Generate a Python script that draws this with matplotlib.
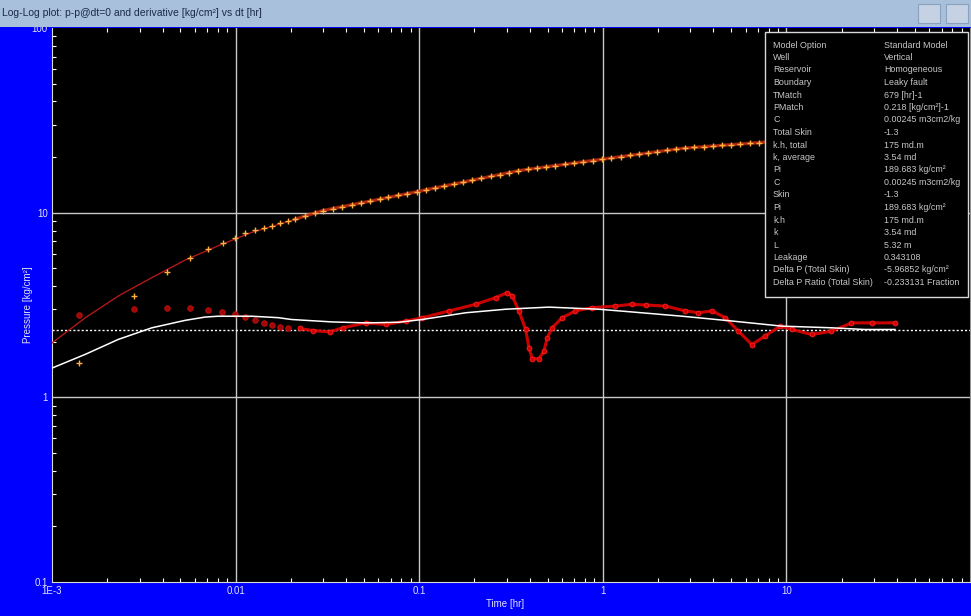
import matplotlib
matplotlib.use('Agg')
import matplotlib.pyplot as plt
from matplotlib.patches import Rectangle
import numpy as np

# measured pressure change p - p@dt=0 [kg/cm2] vs elapsed time [hr]
press_t = [0.0014, 0.00281, 0.00422, 0.00562, 0.00704, 0.00857, 0.00992, 0.01123, 0.01273,
           0.01432, 0.01583, 0.01741, 0.01932,
           0.021, 0.024, 0.027, 0.030, 0.034, 0.038, 0.043, 0.048, 0.054, 0.061, 0.068,
           0.077, 0.086, 0.097, 0.109, 0.122, 0.137, 0.154, 0.173, 0.194, 0.218, 0.245,
           0.275, 0.309, 0.347, 0.39, 0.44, 0.49, 0.55, 0.62, 0.70, 0.78, 0.88, 0.99,
           1.11, 1.25, 1.40, 1.57, 1.77, 1.98, 2.23, 2.50, 2.81, 3.15, 3.54, 3.97, 4.46,
           5.0, 5.6, 6.3, 7.1, 8.0, 9.0, 10.1, 11.3, 12.7, 14.3, 16.0, 18.0, 20.2, 22.7,
           25.5, 28.6, 32.1, 36.0]
press_p = [1.54, 3.54, 4.80, 5.67, 6.37, 6.81, 7.29, 7.72, 8.05,
           8.25, 8.52, 8.74, 8.97,
           9.21, 9.60, 9.96, 10.27, 10.53, 10.77, 11.04, 11.28, 11.55, 11.83, 12.09,
           12.39, 12.67, 12.98, 13.30, 13.61, 13.94, 14.28, 14.62, 14.98, 15.34, 15.71,
           16.08, 16.47, 16.86, 17.16, 17.44, 17.69, 17.97, 18.26, 18.57, 18.84, 19.15, 19.46,
           19.77, 20.09, 20.40, 20.72, 21.06, 21.38, 21.73, 22.07, 22.37, 22.56, 22.76, 22.95,
           23.15, 23.34, 23.54, 23.74, 23.95, 24.16, 24.33, 24.50, 24.67, 24.84, 25.01,
           25.18, 25.35, 25.53, 25.71, 25.89, 26.07, 26.25, 26.43]

# pressure derivative [kg/cm2]
deriv_t = [0.0014, 0.00281, 0.00422, 0.00562, 0.00704, 0.00846, 0.0099, 0.01123, 0.0127,
           0.0143, 0.0158, 0.0174, 0.0193,
           0.0223, 0.0263, 0.0325, 0.0383, 0.0513, 0.0659, 0.0847, 0.104, 0.146, 0.203,
           0.261, 0.302, 0.321, 0.349, 0.380, 0.396, 0.413, 0.449, 0.478, 0.498, 0.530,
           0.601, 0.710, 0.875, 1.17, 1.44, 1.71, 2.19, 2.81, 3.32, 3.93, 4.64, 5.48,
           6.48, 7.66, 9.24, 10.7, 13.7, 17.6, 22.6, 29.1, 39.0]
deriv_p = [2.79, 3.00, 3.06, 3.04, 2.97, 2.90, 2.82, 2.72, 2.61,
           2.52, 2.46, 2.40, 2.36,
           2.36, 2.30, 2.26, 2.38, 2.53, 2.48, 2.59, 2.70, 2.94, 3.19,
           3.47, 3.69, 3.54, 2.94, 2.33, 1.85, 1.62, 1.62, 1.78, 2.10, 2.38,
           2.70, 2.94, 3.06, 3.12, 3.19, 3.16, 3.12, 2.94, 2.87, 2.94, 2.70, 2.28,
           1.93, 2.15, 2.43, 2.33, 2.19, 2.28, 2.53, 2.53, 2.53]

# leaky fault model: pressure and derivative
model_t = [0.001, 0.00152, 0.0023, 0.0035, 0.0053, 0.00805, 0.0122, 0.0201, 0.0297,
           0.104, 0.349, 1.08, 2.69, 7.69, 36.0]
model_p = [1.97, 2.70, 3.54, 4.45, 5.53, 6.62, 7.81, 9.05, 10.25,
           13.17, 16.9, 19.7, 22.3, 24.1, 26.4]
model_dt = [0.001, 0.00152, 0.0023, 0.0035, 0.0053, 0.00681, 0.00805, 0.0122, 0.0171,
            0.0201, 0.0337, 0.0513, 0.0775, 0.104, 0.179, 0.296, 0.508, 0.95, 1.44,
            2.70, 5.05, 9.44, 17.6, 26.7, 39.0]
model_dp = [1.44, 1.71, 2.06, 2.38, 2.61, 2.72, 2.75, 2.75, 2.70,
            2.64, 2.56, 2.53, 2.55, 2.64, 2.87, 3.00, 3.08, 3.00, 2.90,
            2.75, 2.59, 2.43, 2.38, 2.33, 2.33]

stab_level = 2.31

x_ticks = [0.001, 0.01, 0.1, 1, 10]
x_labels = ['1E-3', '0.01', '0.1', '1', '10']
y_ticks = [0.1, 1, 10, 100]
y_labels = ['0.1', '1', '10', '100']

info_labels = ['Model Option', 'Well', 'Reservoir', 'Boundary', 'TMatch', 'PMatch', 'C',
               'Total Skin', 'k.h, total', 'k, average', 'Pi', 'C', 'Skin', 'Pi', 'k.h',
               'k', 'L', 'Leakage', 'Delta P (Total Skin)', 'Delta P Ratio (Total Skin)']
info_values = ['Standard Model', 'Vertical', 'Homogeneous', 'Leaky fault', '679 [hr]-1',
               '0.218 [kg/cm\u00b2]-1', '0.00245 m3cm2/kg', '-1.3', '175 md.m', '3.54 md',
               '189.683 kg/cm\u00b2', '0.00245 m3cm2/kg', '-1.3', '189.683 kg/cm\u00b2',
               '175 md.m', '3.54 md', '5.32 m', '0.343108', '-5.96852 kg/cm\u00b2',
               '-0.233131 Fraction']

W, H = 971, 616
FONT = ['Liberation Sans', 'DejaVu Sans']


def fx(x):
    return x / W


def fy(y):
    return 1 - y / H


fig = plt.figure(figsize=(W / 100, H / 100), dpi=100, facecolor='#0000ff')
ax = fig.add_axes([fx(52), fy(582), fx(970) - fx(52), fy(28) - fy(582)])
ax.set_facecolor('black')
ax.set_xscale('log')
ax.set_yscale('log')
ax.set_xlim(1e-3, 100)
ax.set_ylim(0.1, 100)

# grid lines only at inner decades
for v in [0.01, 0.1, 1, 10]:
    ax.axvline(v, color='#c8c8c8', lw=1, zorder=1)
for v in [1, 10]:
    ax.axhline(v, color='#c8c8c8', lw=1, zorder=1)
ax.axhline(stab_level, color='white', lw=1, ls=(0, (1.5, 1.5)), zorder=2)

t = np.array(press_t)
p = np.array(press_p)
dt = np.array(deriv_t)
dp = np.array(deriv_p)

ax.plot(model_t, model_p, color='#b01818', lw=1, zorder=3)
ax.plot(t[t > 0.02], p[t > 0.02], color='#c83010', lw=2.5, alpha=0.7, zorder=3)
ax.plot(t, p, ls='none', marker='+', ms=4, mew=1, color='#ffb040', zorder=4)

ax.plot(dt[dt > 0.02], dp[dt > 0.02], color='#e00000', lw=2.2, alpha=0.9, zorder=3)
ax.plot(dt[dt < 0.02], dp[dt < 0.02], ls='none', marker='o', ms=4, mfc='#a00808',
        mec='#c01010', mew=0.6, zorder=4)
ax.plot(dt[dt > 0.02], dp[dt > 0.02], ls='none', marker='o', ms=3.5, mfc='#d00000',
        mec='#ff2020', mew=0.6, zorder=4)
ax.plot(model_dt, model_dp, color='white', lw=1.1, zorder=5)

ax.set_xticks(x_ticks, labels=x_labels)
ax.set_yticks(y_ticks, labels=y_labels)
ax.tick_params(which='both', direction='in', top=True, right=False, colors='white',
               labelcolor='#e0e0ff', labelsize=7)
ax.tick_params(which='major', length=0, pad=3)
ax.tick_params(which='minor', length=3, width=0.8)
for lab in ax.get_xticklabels() + ax.get_yticklabels():
    lab.set_family(FONT)
for side in ['left', 'bottom']:
    ax.spines[side].set_color('#d8d8d8')
ax.spines['top'].set_visible(False)
ax.spines['right'].set_color('#909090')

fig.text(fx(28), fy(305), 'Pressure [kg/cm\u00b2]', rotation=90, ha='center', va='center',
         color='#e0e0ff', fontsize=7, family=FONT)
fig.text(fx(505), fy(604), 'Time [hr]', ha='center', va='center',
         color='#e0e0ff', fontsize=7, family=FONT)

# window title bar
fig.add_artist(Rectangle((0, fy(27)), 1, fy(0) - fy(27), transform=fig.transFigure,
                         fc='#a9c0dc', ec='none'))
fig.text(fx(2), fy(13), 'Log-Log plot: p-p@dt=0 and derivative [kg/cm\u00b2] vs dt [hr]',
         ha='left', va='center', color='#1a2a48', fontsize=7.5, family=FONT)
for bx in [918, 946]:
    fig.add_artist(Rectangle((fx(bx), fy(23)), fx(22), fy(4) - fy(23), transform=fig.transFigure,
                             fc='#c4d2e4', ec='#8aa0bc', lw=0.8))

# model parameter box
fig.add_artist(Rectangle((fx(765), fy(297)), fx(968) - fx(765), fy(32) - fy(297),
                         transform=fig.transFigure, fc='black', ec='#d8d8d8', lw=1))
for i, (k, v) in enumerate(zip(info_labels, info_values)):
    y = 45 + i * 12.5
    fig.text(fx(773), fy(y), k, ha='left', va='center', color='#c8c8c8', fontsize=6.4, family=FONT)
    fig.text(fx(884), fy(y), v, ha='left', va='center', color='#c8c8c8', fontsize=6.4, family=FONT)

fig.savefig('out.png', dpi=100, facecolor=fig.get_facecolor())
